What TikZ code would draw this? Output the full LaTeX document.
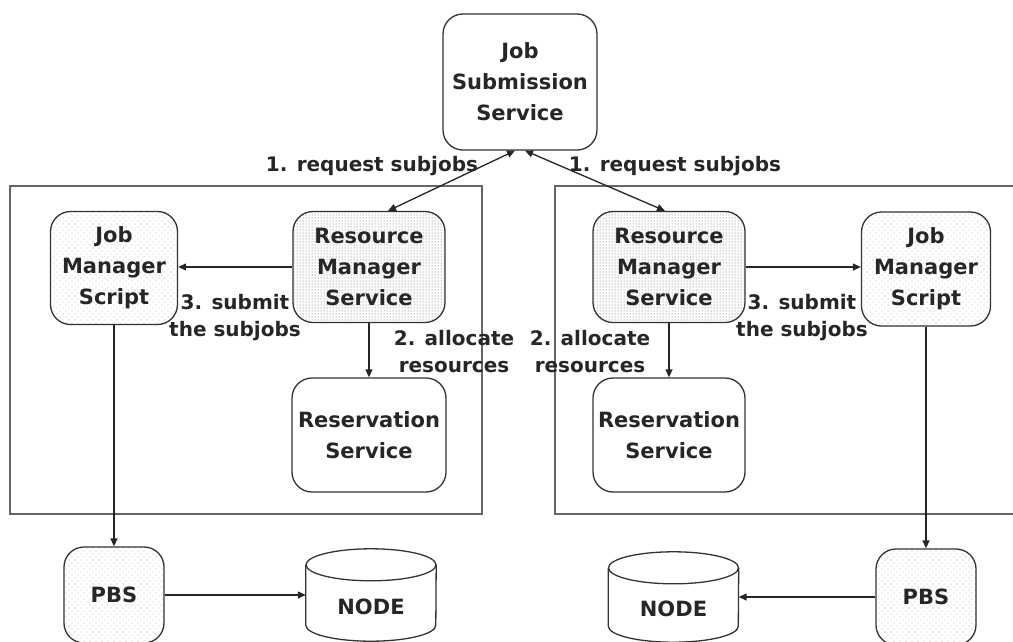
\documentclass[tikz,border=0pt]{standalone}
\usepackage{fontspec}
\setmainfont{DejaVu Sans}
\usetikzlibrary{arrows.meta,patterns,calc}

% light stipple used for the script and PBS boxes
\pgfdeclarepatternformonly{sparsedots}{\pgfpoint{-1pt}{-1pt}}{\pgfpoint{5pt}{5pt}}{\pgfpoint{6pt}{6pt}}%
  {\pgfpathcircle{\pgfpointorigin}{.6pt}\pgfpathcircle{\pgfpoint{3pt}{3pt}}{.6pt}\pgfusepath{fill}}

\newcommand{\boxfont}{\bfseries\fontsize{21pt}{31pt}\selectfont}
\newcommand{\lblfont}{\bfseries\fontsize{20pt}{27pt}\selectfont}

\tikzset{
  x=1pt, y=-1pt,
  >={Triangle[length=8pt,width=7pt]},
  svc/.style={draw=black!80, line width=1.3pt, rounded corners=20pt, align=center,
    font=\boxfont, text=black!85, inner sep=0pt},
  mgr/.style={svc, pattern=dots, pattern color=black!65},
  light/.style={svc, pattern=sparsedots, pattern color=gray!55},
  store/.style={inner sep=0pt, minimum width=130pt},
  cyl/.style={draw=black!80, line width=1.3pt},
  lbl/.style={font=\lblfont, text=black!85, align=center, inner sep=0pt},
  conn/.style={draw=black!85, line width=1.3pt},
  panel/.style={draw=black!60, line width=2pt},
}

\begin{document}
\begin{tikzpicture}
\useasboundingbox (0,0) rectangle (1013,641);

% enclosing frames of the two sites
\draw[panel] (10,186) rectangle (482,514);
\draw[panel] (1020,186) -- (555,186) -- (555,514) -- (1020,514);

% central submission service
\node[svc, minimum width=154pt, minimum height=136pt] (jss) at (520,82) {Job\\Submission\\Service};

% left site
\node[light, minimum width=127pt, minimum height=113pt] (jmsL) at (114,268) {Job\\Manager\\Script};
\node[mgr, minimum width=152pt, minimum height=111pt] (rmsL) at (369,267) {Resource\\Manager\\Service};
\node[svc, minimum width=154pt, minimum height=114pt] (resL) at (369,435) {Reservation\\Service};
\node[light, minimum width=100pt, minimum height=96pt] (pbsL) at (114,595) {PBS};
\node[store, minimum height=92pt] (nodeL) at (371,595) {};

% right site
\node[mgr, minimum width=152pt, minimum height=111pt] (rmsR) at (669,267) {Resource\\Manager\\Service};
\node[light, minimum width=129pt, minimum height=114pt] (jmsR) at (926,269) {Job\\Manager\\Script};
\node[svc, minimum width=152pt, minimum height=114pt] (resR) at (669,435) {Reservation\\Service};
\node[light, minimum width=100pt, minimum height=96pt] (pbsR) at (926,597) {PBS};
\node[store, minimum height=90pt] (nodeR) at (673.5,597) {};

% storage cylinders
\foreach \n in {nodeL,nodeR}{
  \draw[cyl] ($(\n.north west)+(0,16)$) -- ($(\n.south west)+(0,-16)$)
    arc[start angle=180, end angle=360, x radius=65pt, y radius=16pt]
    -- ($(\n.north east)+(0,16)$);
  \draw[cyl] ($(\n.north)+(0,16)$) ellipse [x radius=65pt, y radius=16pt];
}
\node[lbl, font=\boxfont] (nodeLt) at ($(nodeL.center)+(0,12)$) {NODE};
\node[lbl, font=\boxfont] (nodeRt) at ($(nodeR.center)+(0,12)$) {NODE};

% connectors
\draw[conn, <->] ([xshift=19pt]rmsL.north) -- ([xshift=-5pt]jss.south);
\draw[conn, <->] ([xshift=5pt]jss.south) -- ([xshift=-4pt]rmsR.north);
\draw[conn, ->] (rmsL.west) -- (rmsL.west -| jmsL.east);
\draw[conn, ->] (rmsR.east) -- (rmsR.east -| jmsR.west);
\draw[conn, ->] (rmsL.south) -- (resL.north);
\draw[conn, ->] (rmsR.south) -- (resR.north);
\draw[conn, ->] (jmsL.south) -- (pbsL.north);
\draw[conn, ->] (jmsR.south) -- (pbsR.north);
\draw[conn, ->] (pbsL.east) -- (nodeL.west);
\draw[conn, ->] (pbsR.west) -- (nodeR.east);

% step labels
\node[lbl] (l1L) at (372,166) {1. request subjobs};
\node[lbl] (l1R) at (675,166) {1. request subjobs};
\node[lbl] (l3L) at (235,318) {3. submit\\the subjobs};
\node[lbl] (l3R) at (802,318) {3. submit\\the subjobs};
\node[lbl] (l2L) at (454,352) {2. allocate\\resources};
\node[lbl] (l2R) at (590,352) {2. allocate\\resources};
\end{tikzpicture}
\end{document}
